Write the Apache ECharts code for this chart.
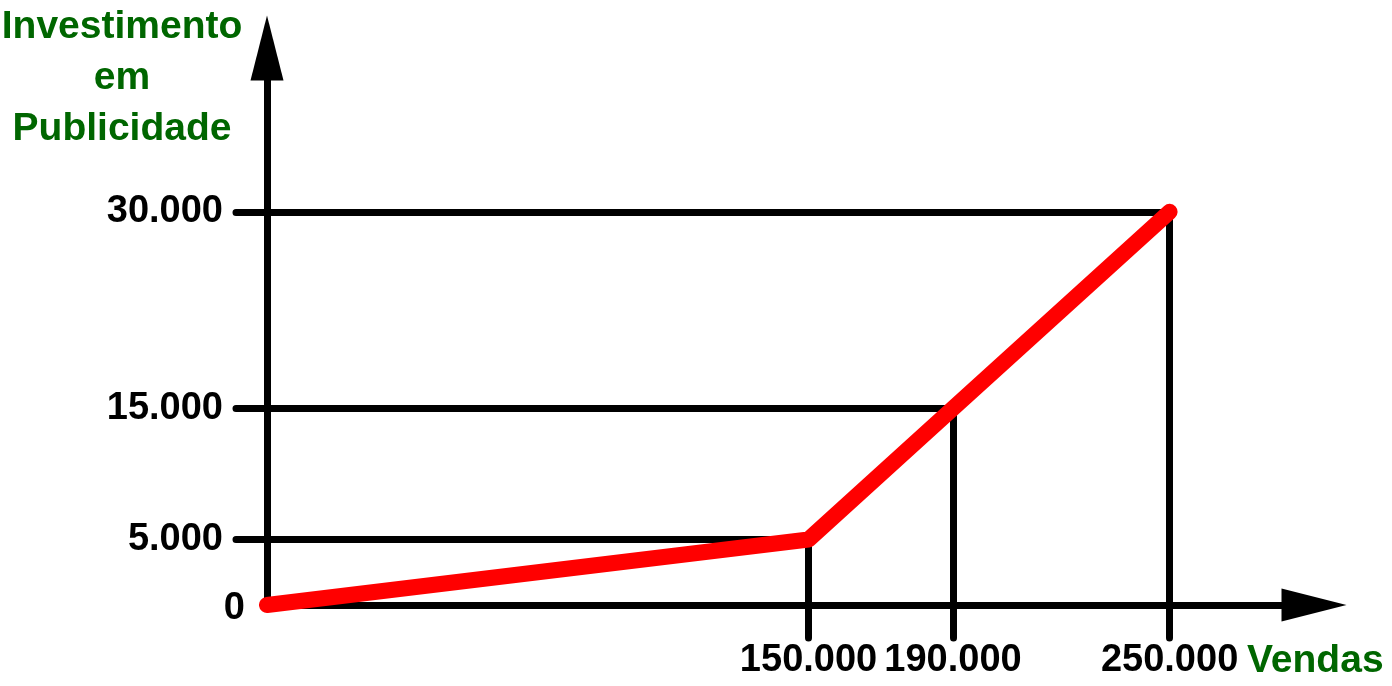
<!DOCTYPE html>
<html>
<head>
<meta charset="utf-8">
<script src="https://cdn.jsdelivr.net/npm/echarts@6/dist/echarts.min.js"></script>
<style>
html,body{margin:0;padding:0;background:#fff;}
#chart{width:1392px;height:686px;}
</style>
</head>
<body>
<div id="chart"></div>
<script>
// Data
const vendas = [0, 150000, 190000, 250000];
const investimento = [0, 5000, 15000, 30000];
const xTickValues = [150000, 190000, 250000];
const xTickLabels = ['150.000', '190.000', '250.000'];
const yTickValues = [0, 5000, 15000, 30000];
const yTickLabels = ['0', '5.000', '15.000', '30.000'];
const yTitle = 'Investimento\nem\nPublicidade';
const xTitle = 'Vendas';

const FONT = '"Liberation Sans", Arial, sans-serif';
const GREEN = '#006600';
const LW = 7;

const chart = echarts.init(document.getElementById('chart'), null, {renderer: 'canvas'});

const guideLines = [];
for (let i = 1; i < vendas.length; i++) {
  guideLines.push([{coord: [0, investimento[i]]}, {coord: [vendas[i], investimento[i]]}]);
  guideLines.push([{coord: [vendas[i], 0]}, {coord: [vendas[i], investimento[i]]}]);
}

const option = {
  backgroundColor: '#ffffff',
  animation: false,
  grid: {left: 267, right: 78, top: 48, bottom: 81, containLabel: false, outerBoundsMode: 'none'},
  xAxis: {
    type: 'value', min: 0, max: 290000,
    splitLine: {show: false},
    axisLine: {show: true, onZero: false, symbol: ['none', 'triangle'], symbolSize: [33, 65],
      lineStyle: {color: '#000', width: LW}},
    axisTick: {show: true, inside: false, length: 33, customValues: xTickValues,
      lineStyle: {color: '#000', width: LW, cap: 'round'}},
    axisLabel: {show: true, margin: 37, customValues: xTickValues,
      fontFamily: FONT, fontSize: 38, fontWeight: 'bold', color: '#000',
      formatter: function (v) { const i = xTickValues.indexOf(v); return i >= 0 ? xTickLabels[i] : ''; }}
  },
  yAxis: {
    type: 'value', min: 0, max: 42500,
    splitLine: {show: false},
    axisLine: {show: true, onZero: false, symbol: ['none', 'triangle'], symbolSize: [33, 65],
      lineStyle: {color: '#000', width: LW}},
    axisTick: {show: true, inside: false, length: 31, customValues: yTickValues.slice(1),
      lineStyle: {color: '#000', width: LW, cap: 'round'}},
    axisLabel: {show: true, margin: 22, customValues: yTickValues,
      fontFamily: FONT, fontSize: 38, fontWeight: 'bold', color: '#000',
      formatter: function (v) {
        const i = yTickValues.indexOf(v);
        if (i < 0) return '';
        return v === 0 ? '{z|' + yTickLabels[i] + '}' : '{n|' + yTickLabels[i] + '}';
      },
      rich: {
        n: {fontFamily: FONT, fontSize: 38, fontWeight: 'bold', color: '#000', padding: [0, 22, 0, 0]},
        z: {fontFamily: FONT, fontSize: 38, fontWeight: 'bold', color: '#000', padding: [7, 0, 0, 0]}
      }
    }
  },
  graphic: [
    {type: 'text', x: 122, y: 2, z: 10,
      style: {text: yTitle, x: 0, y: 0, align: 'center', verticalAlign: 'top',
        font: 'bold 39px ' + FONT, lineHeight: 51, fill: GREEN}},
    {type: 'text', x: 1247, y: 661, z: 10,
      style: {text: xTitle, align: 'left', verticalAlign: 'middle',
        font: 'bold 39px ' + FONT, fill: GREEN}}
  ],
  series: [
    {
      type: 'line', data: [], z: 2, silent: true,
      markLine: {silent: true, symbol: ['none', 'none'], label: {show: false},
        lineStyle: {color: '#000', width: LW, type: 'solid'},
        emphasis: {disabled: true},
        data: guideLines}
    },
    {
      type: 'line', z: 5, clip: false, silent: true,
      data: vendas.map((v, i) => [v, investimento[i]]),
      showSymbol: false, symbol: 'none',
      lineStyle: {color: '#ff0000', width: 16, cap: 'round', join: 'round'}
    }
  ]
};
chart.setOption(option);
</script>
</body>
</html>
